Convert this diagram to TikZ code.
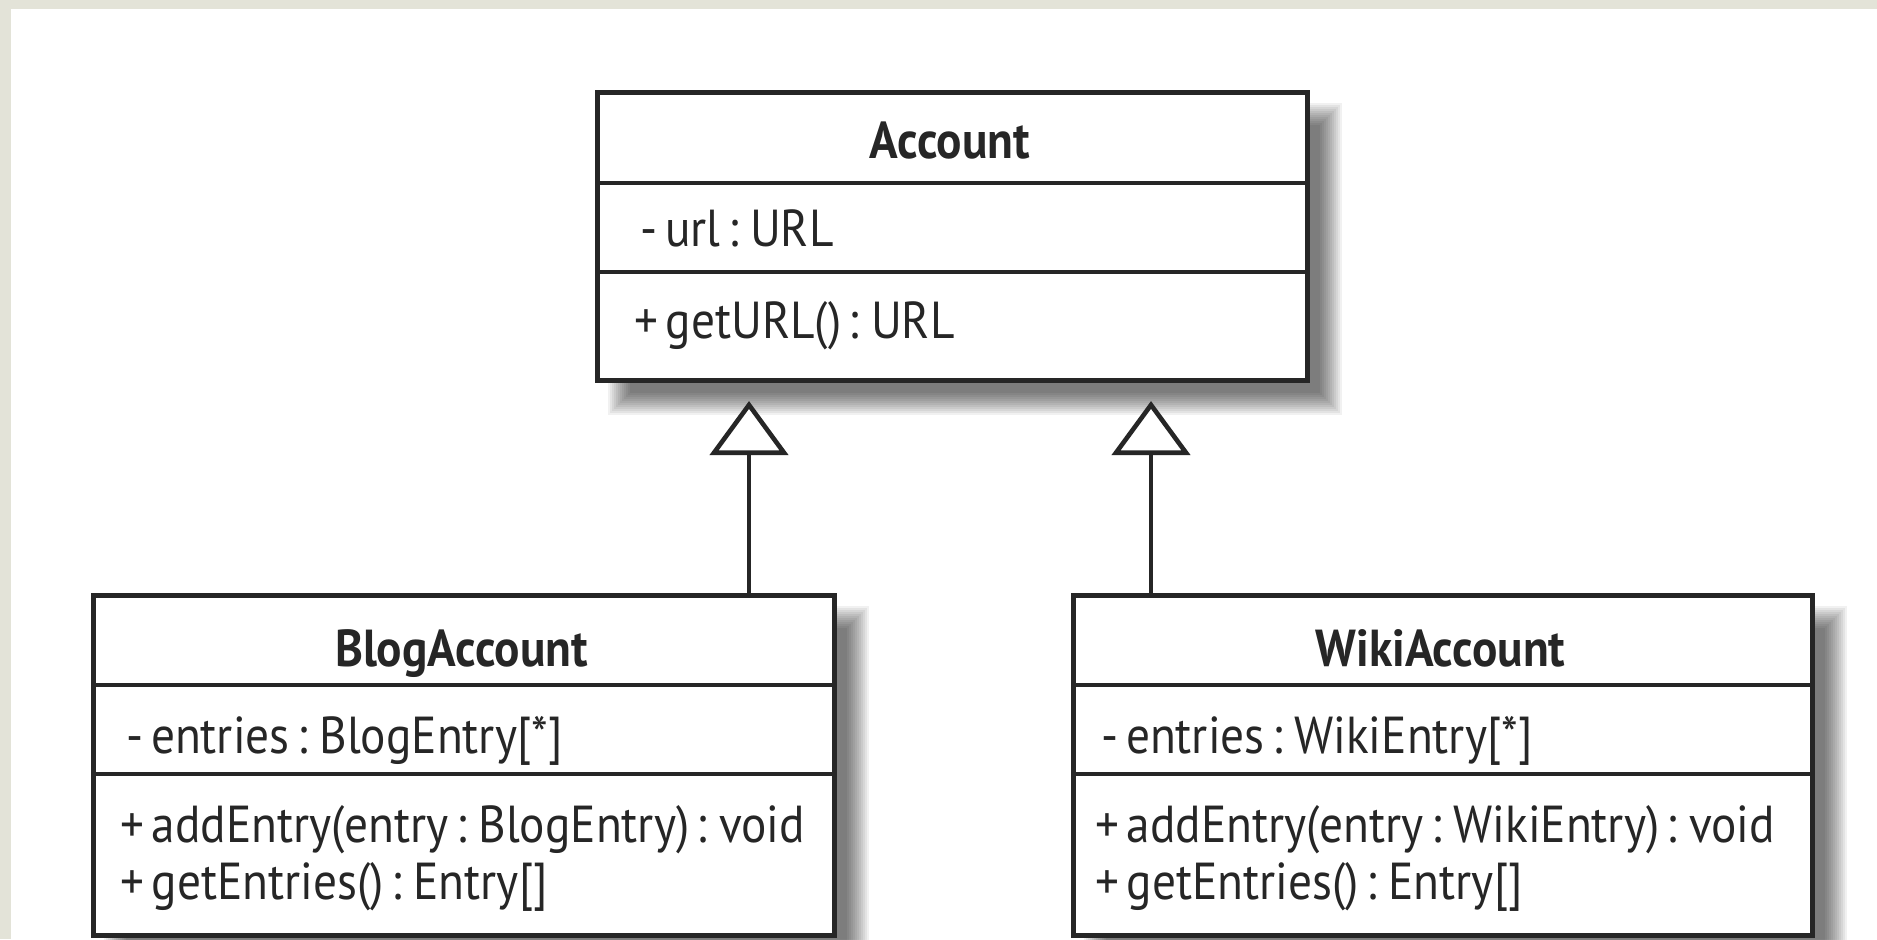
\documentclass[tikz,border=0pt]{standalone}
\usepackage{fontspec}
\setmainfont{PT Sans}[FakeStretch=0.91, WordSpace=0.6]
\usetikzlibrary{arrows.meta}
\definecolor{bgtex}{HTML}{E3E3D8}
\definecolor{ink}{HTML}{262626}
\newcommand{\softshadow}[4]{%
  \foreach \k in {0,...,11}{%
    \pgfmathsetmacro{\e}{12-2*\k}%
    \fill[black, fill opacity=0.055]
      ({#1+25-\e},{#2+25-\e}) rectangle ({#3+25+\e},{#4+25+\e});
  }}
\begin{document}
\begin{tikzpicture}[x=0.5pt,y=-0.5pt,
  classbox/.style={draw=ink, line width=2.4pt, fill=white, inner sep=0pt, anchor=north west},
  divider/.style={draw=ink, line width=2.4pt},
  ttl/.style={font=\bfseries\fontsize{26}{30}\selectfont, text=ink, inner sep=0pt, anchor=base},
  txt/.style={font=\fontsize{26}{30}\selectfont, text=ink, inner sep=0pt, anchor=base west},
  inh/.style={draw=ink, line width=2pt, -{Triangle[length=27pt,width=39pt,fill=white,line width=2.3pt]}}
]
\useasboundingbox (0,0) rectangle (1877,939);
\fill[bgtex] (0,0) rectangle (1877,939);
\fill[white] (11,9) rectangle (1877,939);

% shadows
\softshadow{595}{90}{1305}{378}
\softshadow{91}{593}{832}{933}
\softshadow{1071}{593}{1810}{933}

% Account
\node[classbox, minimum width=355pt, minimum height=144pt] (acc) at (595,90) {};
\draw[divider] (595,183) -- (1305,183);
\draw[divider] (595,272) -- (1305,272);
\node[ttl] (accT) at (950,158) {Account};
\node[txt] (accA) at (640,246) {- url : URL};
\node[txt] (accM) at (634,338) {+ getURL() : URL};

% BlogAccount
\node[classbox, minimum width=370.5pt, minimum height=170pt] (blog) at (91,593) {};
\draw[divider] (91,685) -- (832,685);
\draw[divider] (91,774) -- (832,774);
\node[ttl] (blogT) at (461.5,666) {BlogAccount};
\node[txt] (blogA) at (126,753) {- entries : BlogEntry[*]};
\node[txt] (blogM1) at (120,842) {+ addEntry(entry : BlogEntry) : void};
\node[txt] (blogM2) at (120,899) {+ getEntries() : Entry[]};

% WikiAccount
\node[classbox, minimum width=369.5pt, minimum height=170pt] (wiki) at (1071,593) {};
\draw[divider] (1071,685) -- (1810,685);
\draw[divider] (1071,774) -- (1810,774);
\node[ttl] (wikiT) at (1440.5,666) {WikiAccount};
\node[txt] (wikiA) at (1101,753) {- entries : WikiEntry[*]};
\node[txt] (wikiM1) at (1095,842) {+ addEntry(entry : WikiEntry) : void};
\node[txt] (wikiM2) at (1095,899) {+ getEntries() : Entry[]};

% generalisations
\coordinate (tipL) at (749,401);
\coordinate (tipR) at (1151,401);
\draw[inh] (blog.north -| tipL) -- (tipL);
\draw[inh] (wiki.north -| tipR) -- (tipR);
\end{tikzpicture}
\end{document}
